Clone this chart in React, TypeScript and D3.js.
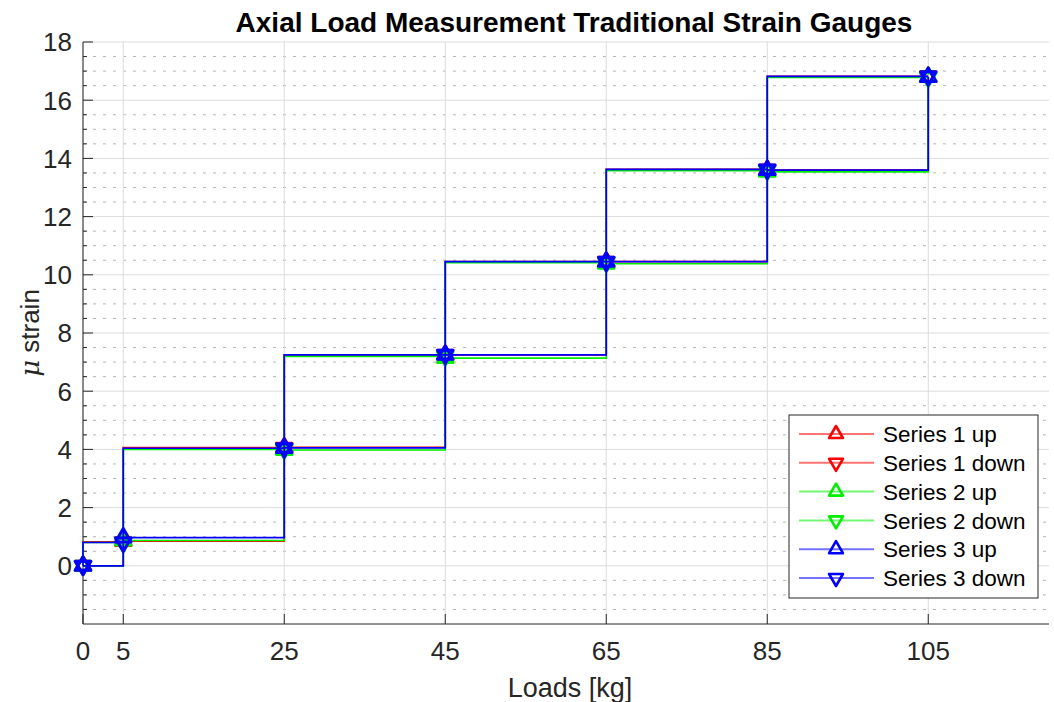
import React from "react";
import * as d3 from "d3";

const loads = [0, 5, 25, 45, 65, 85, 105];
const xTicks = [0, 5, 25, 45, 65, 85, 105];
const yTicks = [0, 2, 4, 6, 8, 10, 12, 14, 16, 18];

const series1Up = [0, 0.85, 4.07, 7.25, 10.45, 13.6, 16.8];
const series1Down = [0, 0.82, 4.06, 7.25, 10.45, 13.62, 16.82];
const series2Up = [0, 0.87, 3.98, 7.14, 10.38, 13.54, 16.8];
const series2Down = [0, 0.8, 4.0, 7.2, 10.42, 13.58, 16.78];
const series3Up = [0, 0.97, 4.05, 7.25, 10.45, 13.6, 16.8];
const series3Down = [0, 0.8, 4.04, 7.25, 10.45, 13.62, 16.82];

const seriesNames = ["Series 1 up", "Series 1 down", "Series 2 up", "Series 2 down", "Series 3 up", "Series 3 down"];
const seriesValues = [series1Up, series1Down, series2Up, series2Down, series3Up, series3Down];
const seriesColors = ["#ff0000", "#ff0000", "#00ee00", "#00ee00", "#0000ff", "#0000ff"];
const seriesDir = ["up", "down", "up", "down", "up", "down"];

const FONT = "'Liberation Sans', Arial, Helvetica, sans-serif";

const W = 1054;
const H = 702;
const L = 83;
const R = 1049;
const T = 42;
const B = 624;

function tri(cx: number, cy: number, up: boolean, r: number) {
  const s = up ? -1 : 1;
  const pts: [number, number][] = [
    [cx, cy + s * r],
    [cx - r * 0.866, cy - s * r * 0.5],
    [cx + r * 0.866, cy - s * r * 0.5],
  ];
  return "M" + pts.map((p) => p.join(",")).join("L") + "Z";
}

export default function App() {
  const x = d3.scaleLinear().domain([0, 120]).range([L, R]);
  const y = d3.scaleLinear().domain([-2, 18]).range([B, T]);
  const minorY = d3.range(-2, 18.001, 0.5).filter((v) => Math.abs(v - Math.round(v / 2) * 2) > 1e-6);
  const stepLine = d3
    .line<[number, number]>()
    .x((d) => x(d[0]))
    .y((d) => y(d[1]))
    .curve(d3.curveStepAfter);

  const legX = 789;
  const legY = 415;
  const legW = 249;
  const legH = 183;
  const rowH = 28.8;

  return (
    <svg width={W} height={H} style={{ position: "absolute", left: 0, top: 0, background: "#fff" }} fontFamily={FONT}>
      <rect x={0} y={0} width={W} height={H} fill="#fff" />
      {/* minor horizontal grid */}
      {minorY.map((v) => (
        <line key={"mg" + v} x1={L} x2={R} y1={y(v)} y2={y(v)} stroke="#b4b4b4" strokeWidth={1} strokeDasharray="3,7" />
      ))}
      {/* major grid */}
      {yTicks.map((v) => (
        <line key={"gy" + v} x1={L} x2={R} y1={y(v)} y2={y(v)} stroke="#dcdcdc" strokeWidth={1} />
      ))}
      {xTicks.map((v) => (
        <line key={"gx" + v} x1={x(v)} x2={x(v)} y1={T} y2={B} stroke="#dcdcdc" strokeWidth={1} />
      ))}
      {/* axes */}
      <line x1={L} x2={L} y1={T} y2={B} stroke="#262626" strokeWidth={1} />
      <line x1={L} x2={R} y1={B} y2={B} stroke="#262626" strokeWidth={1} />
      {yTicks.map((v) => (
        <line key={"ty" + v} x1={L} x2={L + 10} y1={y(v)} y2={y(v)} stroke="#262626" strokeWidth={1} />
      ))}
      {minorY.map((v) => (
        <line key={"mty" + v} x1={L} x2={L + 4} y1={y(v)} y2={y(v)} stroke="#262626" strokeWidth={1} />
      ))}
      {xTicks.map((v) => (
        <line key={"tx" + v} x1={x(v)} x2={x(v)} y1={B} y2={B - 10} stroke="#262626" strokeWidth={1} />
      ))}
      {/* tick labels */}
      {yTicks.map((v) => (
        <text key={"ly" + v} x={L - 11} y={y(v)} dy="0.36em" textAnchor="end" fontSize={26} fill="#262626">
          {v}
        </text>
      ))}
      {xTicks.map((v) => (
        <text key={"lx" + v} x={x(v)} y={B + 36} textAnchor="middle" fontSize={26} fill="#262626">
          {v}
        </text>
      ))}
      {/* series */}
      {seriesValues.map((vals, i) => {
        const pts: [number, number][] = loads.map((l, j) => [l, vals[j]] as [number, number]);
        const ordered = seriesDir[i] === "down" ? pts.slice().reverse() : pts;
        return (
          <g key={"s" + i}>
            <path d={stepLine(ordered) || ""} fill="none" stroke={seriesColors[i]} strokeWidth={1.7} />
            {ordered.map((p, j) => (
              <path
                key={j}
                d={tri(x(p[0]), y(p[1]), seriesDir[i] === "up", 9)}
                fill="none"
                stroke={seriesColors[i]}
                strokeWidth={3}
                strokeLinejoin="round"
              />
            ))}
          </g>
        );
      })}
      {/* title & labels */}
      <text x={574} y={32} textAnchor="middle" fontSize={28} fontWeight="bold" fill="#000">
        Axial Load Measurement Traditional Strain Gauges
      </text>
      <text x={570} y={697} textAnchor="middle" fontSize={27} fill="#262626">
        Loads [kg]
      </text>
      <text transform={`translate(39,${(T + B) / 2}) rotate(-90)`} textAnchor="middle" fontSize={26} fill="#262626">
        <tspan fontStyle="italic" fontFamily="'DejaVu Serif', serif">μ</tspan>
        <tspan> strain</tspan>
      </text>
      {/* legend */}
      <rect x={legX} y={legY} width={legW} height={legH} fill="#fff" stroke="#262626" strokeWidth={1} />
      {seriesNames.map((name, i) => {
        const cy = legY + 19 + i * rowH;
        return (
          <g key={"lg" + i}>
            <line x1={799} x2={874} y1={cy} y2={cy} stroke={seriesColors[i]} strokeOpacity={0.55} strokeWidth={2} />
            <path
              d={tri(836, cy, seriesDir[i] === "up", 8)}
              fill="none"
              stroke={seriesColors[i]}
              strokeWidth={2.6}
              strokeLinejoin="round"
            />
            <text x={883} y={cy} dy="0.36em" fontSize={22.5} fill="#000">
              {name}
            </text>
          </g>
        );
      })}
    </svg>
  );
}
